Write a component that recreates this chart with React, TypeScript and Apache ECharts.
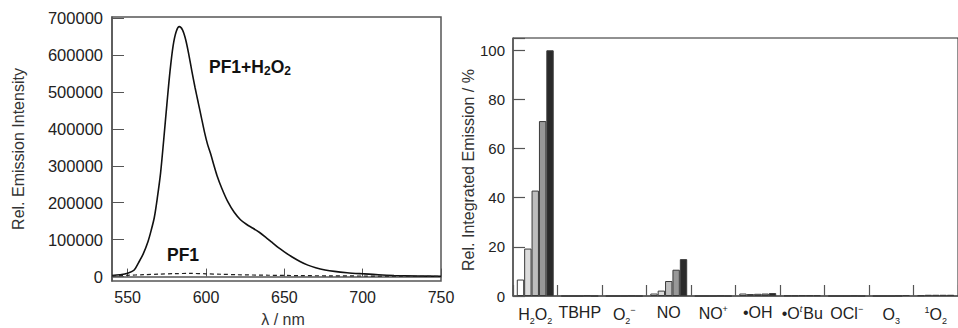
import React, { useEffect, useRef } from "react";
import * as echarts from "echarts";

// ---------- Left panel: emission spectra ----------
const wavelengthTicks = [550, 600, 650, 700, 750];
const intensityTicks = [0, 100000, 200000, 300000, 400000, 500000, 600000, 700000];

const pf1H2O2Spectrum: [number, number][] = [
  [540, 3000], [545, 5000], [550, 9000], [554, 17000], [557, 38000], [560, 62000],
  [563, 95000], [565, 125000], [567, 160000], [569, 215000], [571, 280000],
  [573, 370000], [575, 465000], [577, 555000], [579, 625000], [581, 664000],
  [583, 677000], [585, 668000], [587, 642000], [589, 602000], [591, 556000],
  [593, 512000], [595, 472000], [597, 432000], [599, 392000], [601, 358000],
  [603, 332000], [605, 302000], [607, 274000], [610, 240000], [614, 202000],
  [618, 174000], [622, 154000], [626, 141000], [630, 131000], [634, 120000],
  [638, 107000], [642, 93000], [646, 79000], [650, 67000], [655, 53000],
  [660, 41000], [665, 31000], [670, 24000], [676, 18000], [682, 14000],
  [690, 10500], [700, 7500], [710, 4800], [720, 3000], [735, 1600], [750, 800],
];

const pf1Spectrum: [number, number][] = [
  [540, 2000], [550, 3500], [560, 5000], [570, 6500], [580, 8000], [590, 8500],
  [600, 7500], [610, 6200], [620, 5000], [640, 3600], [660, 2600], [680, 2000],
  [700, 1500], [725, 1000], [750, 500],
];

// ---------- Right panel: selectivity bars ----------
const categories = ["H2O2", "TBHP", "O2-", "NO", "NO+", "•OH", "•OtBu", "OCl-", "O3", "1O2"];
const categoryLabels = [
  "{n|H}{sub|2}{n|O}{sub|2}",
  "{n|TBHP}",
  "{n|O}{sub|2}{sup|−}",
  "{n|NO}",
  "{n|NO}{sup|+}",
  "{n|•OH}",
  "{n|•O}{it|t}{n|Bu}",
  "{n|OCl}{sup|−}",
  "{n|O}{sub|3}",
  "{sup|1}{n|O}{sub|2}",
];

const level1 = [6.7, 0, 0, 1.0, 0, 1.0, 0.2, 0, 0, 0.3];
const level2 = [19.3, 0, 0, 2.2, 0, 0.8, 0.2, 0, 0, 0.5];
const level3 = [42.9, 0, 0, 6.1, 0, 0.9, 0.3, 0, 0, 0.5];
const level4 = [71.2, 0.2, 0.1, 10.7, 0.1, 1.0, 0.3, 0.1, 0.1, 0.5];
const level5 = [100, 0, 0, 15.0, 0, 1.2, 0.3, 0, 0.4, 0.5];
const levelSeries = [level1, level2, level3, level4, level5];
const levelColors = ["#ffffff", "#dcdcdc", "#bdbdbd", "#989898", "#2a2a2a"];

const FONT = "'Liberation Sans', Arial, Helvetica, sans-serif";
const AXIS_GREY = "#555";
const TEXT = "#222";

export default function App() {
  const ref = useRef<HTMLDivElement>(null);

  useEffect(() => {
    if (!ref.current) return;
    const chart = echarts.init(ref.current, undefined, { renderer: "svg" });

    const option: any = {
      animation: false,
      backgroundColor: "#ffffff",
      textStyle: { fontFamily: FONT },
      grid: [
        {
          left: 112, top: 17, width: 329, height: 264,
          show: true, borderColor: AXIS_GREY, borderWidth: 1.5, backgroundColor: "transparent",
        },
        {
          left: 513, top: 38, width: 451, height: 258,
          show: true, borderColor: "#222", borderWidth: 1, backgroundColor: "transparent",
        },
      ],
      xAxis: [
        {
          type: "value", gridIndex: 0, min: 540, max: 750,
          axisLine: { show: true, lineStyle: { color: AXIS_GREY, width: 1.5 } },
          axisTick: { show: true, inside: true, length: 8, customValues: wavelengthTicks, lineStyle: { color: AXIS_GREY } },
          axisLabel: { customValues: wavelengthTicks, color: TEXT, fontSize: 16, fontFamily: FONT, margin: 8 },
          splitLine: { show: false },
        },
        {
          type: "category", gridIndex: 1, data: categories, boundaryGap: true,
          axisLine: { show: true, lineStyle: { color: AXIS_GREY, width: 1.5 } },
          axisTick: { show: true, inside: true, length: 11, interval: 0, lineStyle: { color: AXIS_GREY, width: 1.2 } },
          axisLabel: {
            interval: 0, margin: 8,
            formatter: (_v: string, i: number) => categoryLabels[i],
            rich: {
              n: { fontSize: 16, color: TEXT, fontFamily: FONT },
              sub: { fontSize: 9, color: TEXT, fontFamily: FONT, padding: [12, 0, 0, 0] },
              sup: { fontSize: 9, color: TEXT, fontFamily: FONT, padding: [0, 0, 9, 0] },
              it: { fontSize: 9, color: TEXT, fontFamily: FONT, fontStyle: "italic", padding: [0, 1, 9, 0] },
            },
          },
          splitLine: { show: false },
        },
      ],
      yAxis: [
        {
          type: "value", gridIndex: 0, min: -12000, max: 703000,
          axisLine: { show: true, lineStyle: { color: AXIS_GREY, width: 1.5 } },
          axisTick: { show: true, inside: true, length: 12, customValues: intensityTicks, lineStyle: { color: AXIS_GREY } },
          axisLabel: {
            customValues: intensityTicks, color: TEXT, fontSize: 16.5, fontFamily: FONT, margin: 9,
            formatter: (v: number) => String(v),
          },
          splitLine: { show: false },
        },
        {
          type: "value", gridIndex: 1, min: 0, max: 105, interval: 20,
          axisLine: { show: true, lineStyle: { color: AXIS_GREY, width: 1.5 } },
          axisTick: { show: true, inside: true, length: 12, lineStyle: { color: AXIS_GREY, width: 1.2 } },
          axisLabel: {
            color: TEXT, fontSize: 15, fontFamily: FONT, margin: 8,
            formatter: (v: number) => (v % 20 === 0 && v <= 100 ? String(v) : ""),
          },
          splitLine: { show: false },
        },
      ],
      series: [
        {
          type: "line", xAxisIndex: 0, yAxisIndex: 0, data: pf1H2O2Spectrum,
          smooth: 0.3, showSymbol: false, lineStyle: { color: "#111", width: 1.6 }, z: 3,
        },
        {
          type: "line", xAxisIndex: 0, yAxisIndex: 0, data: pf1Spectrum,
          smooth: 0.3, showSymbol: false, lineStyle: { color: "#222", width: 1.2, type: [4, 3] }, z: 3,
        },
        ...levelSeries.map((d, i) => ({
          type: "bar", xAxisIndex: 1, yAxisIndex: 1, data: d,
          barGap: "0%", barCategoryGap: "17%",
          itemStyle: { color: levelColors[i], borderColor: "#3a3a3a", borderWidth: 1 },
        })),
      ],
      graphic: [
        {
          type: "text", x: 18, y: 149, rotation: Math.PI / 2,
          style: { text: "Rel. Emission Intensity", fill: "#333", font: `16px ${FONT}`, align: "center", verticalAlign: "middle" },
        },
        {
          type: "text", x: 283, y: 319,
          style: { text: "λ / nm", fill: "#333", font: `16px ${FONT}`, align: "center", verticalAlign: "middle" },
        },
        {
          type: "text", x: 468, y: 170, rotation: Math.PI / 2,
          style: { text: "Rel. Integrated Emission / %", fill: "#333", font: `16px ${FONT}`, align: "center", verticalAlign: "middle" },
        },
        {
          type: "text", x: 209, y: 67,
          style: {
            text: "{b|PF1+H}{s|2}{b|O}{s|2}", align: "left", verticalAlign: "middle",
            rich: {
              b: { fontSize: 17.5, fontWeight: "bold", fill: "#111", fontFamily: FONT },
              s: { fontSize: 12, fontWeight: "bold", fill: "#111", fontFamily: FONT, padding: [7, 0, 0, 0] },
            },
          },
        },
        {
          type: "text", x: 167, y: 255,
          style: { text: "PF1", fill: "#111", font: `bold 17.5px ${FONT}`, align: "left", verticalAlign: "middle" },
        },
      ],
    };

    chart.setOption(option);
    return () => chart.dispose();
  }, []);

  return <div ref={ref} style={{ position: "absolute", left: 0, top: 0, width: 958, height: 328 }} />;
}
